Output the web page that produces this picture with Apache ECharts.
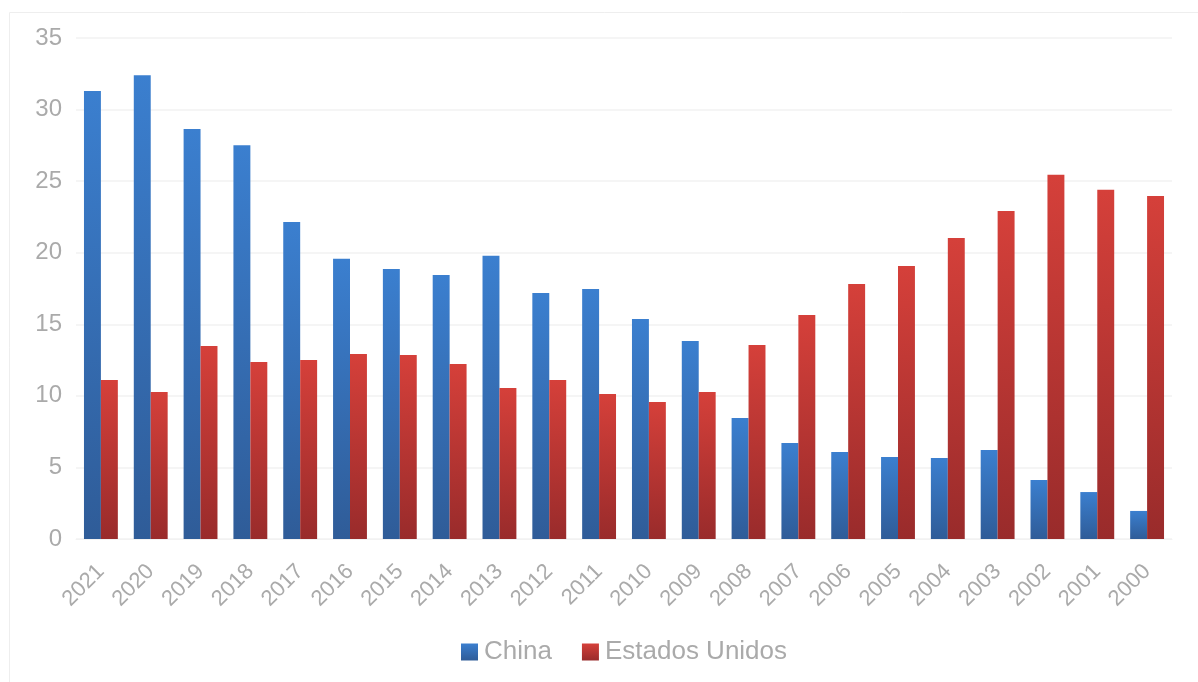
<!DOCTYPE html>
<html><head><meta charset="utf-8">
<script src="https://cdn.jsdelivr.net/npm/echarts@6/dist/echarts.min.js"></script>
<style>html,body{margin:0;padding:0;background:#fff}#c{width:1198px;height:682px}</style>
</head><body><div id="c"></div>
<script>
const years = ['2021','2020','2019','2018','2017','2016','2015','2014','2013','2012','2011','2010','2009','2008','2007','2006','2005','2004','2003','2002','2001','2000'];
const china = [31.3,32.4,28.65,27.5,22.15,19.57,18.87,18.45,19.78,17.19,17.47,15.37,13.84,8.46,6.7,6.08,5.73,5.66,6.22,4.12,3.28,1.96];
const usa = [11.1,10.27,13.49,12.37,12.5,12.93,12.86,12.23,10.55,11.1,10.13,9.57,10.27,13.56,15.65,17.82,19.08,21.03,22.92,25.44,24.39,23.97];
const yTicks = {min:0, max:35, interval:5};

const chart = echarts.init(document.getElementById('c'));
const grad = (a,b)=>new echarts.graphic.LinearGradient(0,0,0,1,[{offset:0,color:a},{offset:1,color:b}]);
const font = '"Liberation Sans", Arial, sans-serif';
chart.setOption({
  animation:false,
  textStyle:{fontFamily:font},
  graphic:[{type:'rect',shape:{x:9.5,y:12.5,width:1200,height:700},style:{fill:'none',stroke:'#eeeeee',lineWidth:1},silent:true,z:-1}],
  grid:{left:76,right:26,top:38,bottom:143,containLabel:false},
  legend:{bottom:12,left:456,itemWidth:17,itemHeight:17,itemGap:30,icon:'rect',
    textStyle:{color:'#aaaaaa',fontSize:26,fontFamily:font,padding:[0,0,0,1]},
    data:['China','Estados Unidos']},
  xAxis:{type:'category',data:years,
    axisLine:{show:true,lineStyle:{color:'#f2f2f2'}},axisTick:{show:false},
    axisLabel:{color:'#aaaaaa',fontSize:22,rotate:45,margin:29,interval:0,fontFamily:font}},
  yAxis:{type:'value',min:yTicks.min,max:yTicks.max,interval:yTicks.interval,
    axisLine:{show:false},axisTick:{show:false},
    splitLine:{lineStyle:{color:'#f2f2f2',width:1.5}},
    axisLabel:{color:'#aaaaaa',fontSize:24,margin:14,fontFamily:font}},
  series:[
    {name:'China',type:'bar',data:china,barGap:'0%',barCategoryGap:'32%',
      itemStyle:{color:grad('#3b7fcf','#2f5c98')}},
    {name:'Estados Unidos',type:'bar',data:usa,
      itemStyle:{color:grad('#d5403a','#992b2b')}}
  ]
});
</script></body></html>
